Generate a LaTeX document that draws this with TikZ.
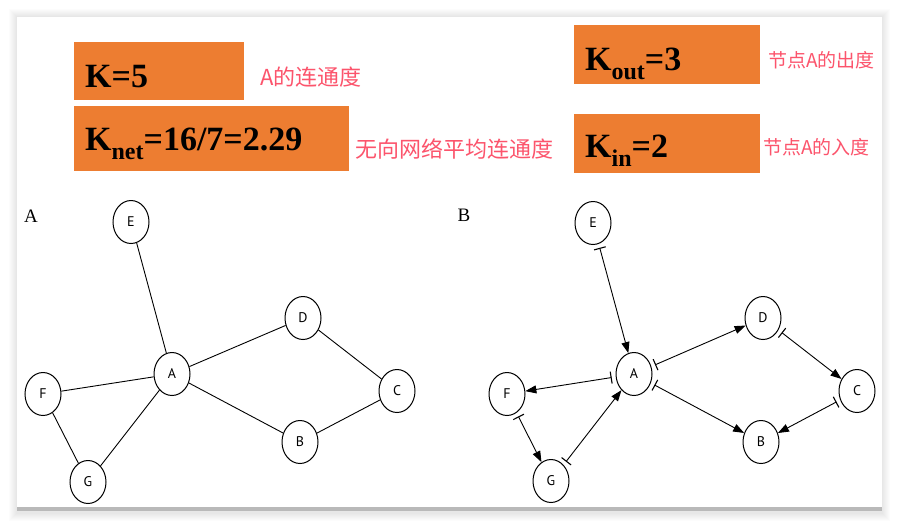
\documentclass[tikz,border=0pt]{standalone}
\usepackage{fontspec}
\setmainfont{Liberation Serif}
\newfontfamily\cjkfont{Noto Sans CJK SC}
\newfontfamily\letterfont{PT Sans}
\usepackage{xcolor}
\usetikzlibrary{shapes.geometric,arrows.meta}

\definecolor{boxorange}{RGB}{237,125,49}
\definecolor{notepink}{RGB}{252,84,108}

\begin{document}
\begin{tikzpicture}[x=1pt,y=-1pt,
  vertex/.style={draw, ellipse, line width=1pt, minimum width=36pt, minimum height=43pt, inner sep=0pt, font=\letterfont\fontsize{14}{14}\selectfont},
  edge/.style={line width=0.9pt},
  diredge/.style={line width=0.9pt, {Bar[width=12pt,line width=1.1pt]}-{Triangle[length=11pt,width=8pt]}, shorten <=4pt},
  kbox/.style={fill=boxorange},
  ktext/.style={anchor=base west, inner sep=0pt, font=\bfseries\fontsize{34}{34}\selectfont},
  note/.style={anchor=west, inner sep=0pt, text=notepink, font=\cjkfont\fontsize{22}{22}\selectfont},
  smallnote/.style={note, font=\cjkfont\fontsize{19}{19}\selectfont},
  panel/.style={font=\fontsize{19}{19}\selectfont}]
  \useasboundingbox (0,0) rectangle (899,528);
  \fill[white] (0,0) rectangle (899,528);

  % Card with its soft shadow
  \foreach \s in {1,...,8}
    \fill[black, opacity=0.01] (17-\s,17-\s) rectangle (882+\s,513+\s);
  \fill[white] (17,17) rectangle (882,507);
  \fill[gray!55] (17,507) rectangle (882,511);

  % Orange boxes
  \fill[kbox] (74,42) rectangle (244,100);
  \fill[kbox] (74,106) rectangle (349,171);
  \fill[kbox] (574,25) rectangle (760,84);
  \fill[kbox] (574,114) rectangle (760,173);

  \node[ktext] (kdeg) at (85,87) {K=5};
  \node[ktext] (knet) at (85,150) {K\raisebox{-0.28em}{\fontsize{24}{24}\selectfont net}=16/7=2.29};
  \node[ktext] (kout) at (585,70) {K\raisebox{-0.28em}{\fontsize{24}{24}\selectfont out}=3};
  \node[ktext] (kin) at (585,157) {K\raisebox{-0.28em}{\fontsize{24}{24}\selectfont in}=2};

  \node[note] (degnote) at (260,77) {A的连通度};
  \node[note] (netnote) at (355,149) {无向网络平均连通度};
  \node[smallnote] (outnote) at (768,60) {节点A的出度};
  \node[smallnote] (innote) at (763,147) {节点A的入度};

  % Undirected network
  \node[panel] (panela) at (31,216) {A};
  \node[vertex] (le) at (131,222) {E};
  \node[vertex] (la) at (172,374) {A};
  \node[vertex] (ld) at (303,318) {D};
  \node[vertex] (lc) at (397,391) {C};
  \node[vertex] (lb) at (300,442) {B};
  \node[vertex] (lf) at (43,394) {F};
  \node[vertex] (lg) at (88,482) {G};

  \draw[edge] (le) -- (la);
  \draw[edge] (la) -- (ld);
  \draw[edge] (ld) -- (lc);
  \draw[edge] (lc) -- (lb);
  \draw[edge] (lb) -- (la);
  \draw[edge] (la) -- (lf);
  \draw[edge] (lf) -- (lg);
  \draw[edge] (lg) -- (la);

  % Directed network
  \node[panel] (panelb) at (464,215) {B};
  \node[vertex] (re) at (593,223) {E};
  \node[vertex] (ra) at (634,374) {A};
  \node[vertex] (rd) at (763,318) {D};
  \node[vertex] (rc) at (857,391) {C};
  \node[vertex] (rb) at (761,442) {B};
  \node[vertex] (rf) at (507,394) {F};
  \node[vertex] (rg) at (551,481) {G};

  \draw[diredge] (re) -- (ra);
  \draw[diredge] (ra) -- (rd);
  \draw[diredge] (rd) -- (rc);
  \draw[diredge] (rc) -- (rb);
  \draw[diredge] (ra) -- (rb);
  \draw[diredge] (ra) -- (rf);
  \draw[diredge] (rf) -- (rg);
  \draw[diredge] (rg) -- (ra);
\end{tikzpicture}
\end{document}
